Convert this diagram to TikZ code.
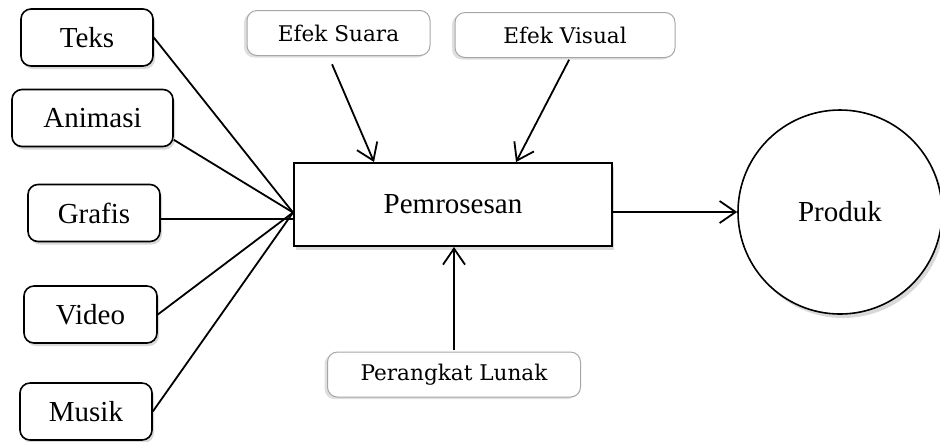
\documentclass[tikz,border=0pt]{standalone}
\usepackage{fontspec}
\setmainfont{Liberation Serif}
\newfontfamily\effectfont{DejaVu Serif}
\usetikzlibrary{arrows.meta,shadows}
\begin{document}
\begin{tikzpicture}
[x=0.5pt,y=-0.5pt,
  inputdecorate/.style={shape=rectangle,rounded corners=5pt,draw,line width=0.8pt,fill=white,
    minimum height=28.5pt,font=\fontsize{14.5}{17}\selectfont,
    drop shadow={shadow xshift=1pt,shadow yshift=-1.5pt,opacity=0.3}},%
  processdecorate/.style={shape=rectangle,draw,line width=1pt,fill=white,
    minimum width=159pt,minimum height=41.5pt,font=\fontsize{14.5}{17}\selectfont,
    drop shadow={shadow xshift=1pt,shadow yshift=-2pt,opacity=0.3}},%
  effectdecorate/.style={shape=rectangle,rounded corners=5pt,draw=gray!70,line width=0.5pt,fill=white,
    minimum height=22.5pt,font=\effectfont\fontsize{10.8}{13}\selectfont,
    drop shadow={shadow xshift=-1.5pt,shadow yshift=-1pt,opacity=0.25}},%
  productdecorate/.style={shape=circle,draw,line width=0.8pt,fill=white,
    minimum size=102pt,font=\fontsize{14.5}{17}\selectfont,
    drop shadow={shadow xshift=1.5pt,shadow yshift=-2pt,opacity=0.3}},%
  linedecorate/.style={-,line width=0.9pt},%
  arrowdecorate/.style={-{Straight Barb[length=8pt,width=11pt]},line width=0.9pt}]
\useasboundingbox (0,0) rectangle (940,441);
%% input nodes
\foreach \nodename/\x/\y/\wide in {
  Teks/87/37.5/66, Animasi/92.5/118/80.5, Grafis/94/213/66,
  Video/90.5/314.5/66.5, Musik/86/411.5/66}
{
  \node (\nodename) at (\x,\y) [inputdecorate,minimum width=\wide pt] {\nodename};
}
%% process, effects and product
\node (proc) at (453,204.5) [processdecorate] {Pemrosesan};
\node (suara) at (338.5,33) [effectdecorate,minimum width=91.5pt] {Efek Suara};
\node (visual) at (565,35) [effectdecorate,minimum width=110pt] {Efek Visual};
\node (lunak) at (454,374.5) [effectdecorate,minimum width=126.5pt] {Perangkat Lunak};
\node (produk) at (840,212) [productdecorate] {Produk};
\coordinate (hub) at ([yshift=-4pt]proc.west);
%% lines into the process
\path
\foreach \startnode in {Teks.east, Animasi.-15, Video.east, Musik.east} {
  (\startnode) edge[linedecorate] (hub)
};
\draw[linedecorate] (Grafis.-5) -- (Grafis.-5 -| hub);
\draw[arrowdecorate,shorten <=4.5pt] ([xshift=-5pt]suara.south) -- ([xshift=-39.5pt]proc.north);
\draw[arrowdecorate,shorten <=1pt] ([xshift=2.5pt]visual.south) -- ([xshift=31.5pt]proc.north);
\draw[arrowdecorate,shorten <=1pt] (lunak.north) -- (lunak.north |- proc.south);
\draw[arrowdecorate] (proc.east |- produk.west) -- (produk.west);
\end{tikzpicture}
\end{document}
